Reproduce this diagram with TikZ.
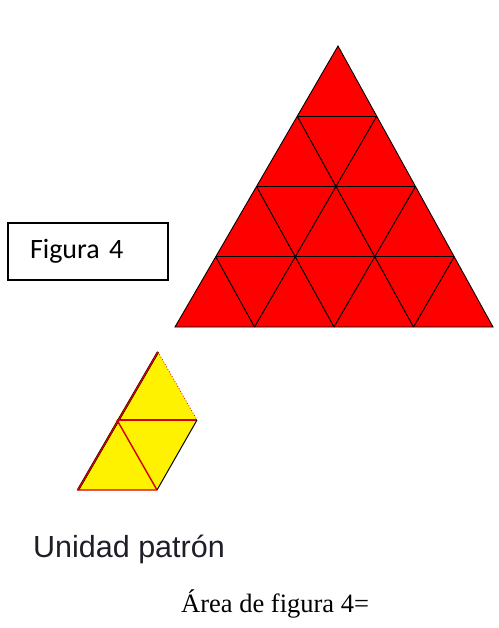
\documentclass[tikz,border=0pt]{standalone}
\usepackage{fontspec}
\setmainfont{Liberation Serif}
\newfontfamily\carlito{Carlito}
\newfontfamily\libsans{Liberation Sans}
\usetikzlibrary{calc}
\definecolor{bigred}{RGB}{255,0,0}
\definecolor{unityellow}{RGB}{255,242,0}
\definecolor{unitred}{RGB}{214,0,0}
\definecolor{labelgrey}{RGB}{30,30,40}
\tikzset{
  gridline/.style={black,line width=1pt},
  outline/.style={black,line width=0.9pt,line join=miter},
  unitedge/.style={unitred,line width=1.4pt},
  figbox/.style={draw=black,line width=1.1pt,minimum width=160pt,minimum height=57pt,
    text width=116pt,align=left,inner xsep=22pt,inner ysep=0pt,
    font=\carlito\fontsize{28}{32}\selectfont},
}
\begin{document}
\begin{tikzpicture}[x=1pt,y=-1pt]
\useasboundingbox (0,0) rectangle (498,628);
% big triangle
\coordinate (A) at (338,46);
\coordinate (B) at (175,327);
\coordinate (C) at (493,327);
\fill[bigred] (A) -- (B) -- (C) -- cycle;
\foreach \k/\m in {1/3,2/2,3/1}{
  \coordinate (ab\k) at ($(A)!\k/4!(B)$);
  \coordinate (ac\k) at ($(A)!\k/4!(C)$);
  \coordinate (bc\k) at ($(B)!\k/4!(C)$);
}
\foreach \k/\m in {1/3,2/2,3/1}{
  \draw[gridline] (ab\k) -- (ac\k);
  \draw[gridline] (ab\k) -- (bc\m);
  \draw[gridline] (ac\k) -- (bc\k);
}
\draw[outline] (A) -- (B) -- (C) -- cycle;
% label box
\node[figbox] (fig) at (88,251.5) {Figura 4};
% unit pattern
\coordinate (T) at (158,352);
\coordinate (ML) at (117,420);
\coordinate (MR) at (197,420);
\coordinate (BL) at (78,490);
\coordinate (BR) at (157,490);
\fill[unityellow] (T) -- (ML) -- (BL) -- (BR) -- (MR) -- cycle;
\draw[black,line width=2.2pt] (T) -- (BL);
\draw[unitred,line width=1.3pt] (T) -- (BL) -- (BR);
\draw[unitred,line width=2pt] (ML) -- (MR);
\draw[unitedge] (ML) -- (BR);
\draw[black,line width=1pt] (BR) -- (MR);
\draw[unitred,line width=0.8pt,dotted] (T) -- (MR);
% texts
\node[anchor=base west,inner sep=0pt,text=labelgrey,font=\libsans\fontsize{30.5}{34}\selectfont] (unit) at (33,557) {Unidad patrón};
\node[anchor=base west,inner sep=0pt,font=\fontsize{26.5}{30}\selectfont] (area) at (181,612) {Área de figura 4=};
\end{tikzpicture}
\end{document}
